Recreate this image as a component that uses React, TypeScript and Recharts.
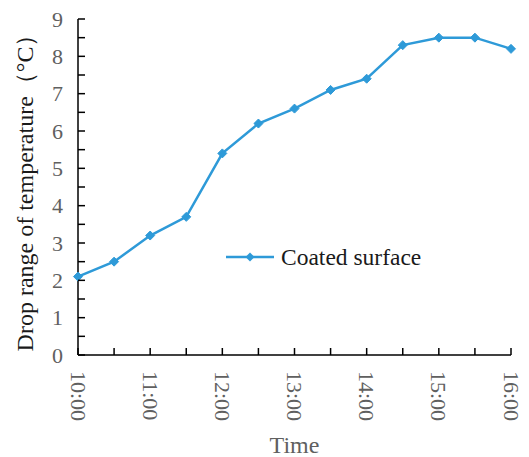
import React from 'react';
import { LineChart, Line, XAxis, YAxis, Label } from 'recharts';

const times = ['10:00', '10:30', '11:00', '11:30', '12:00', '12:30', '13:00', '13:30', '14:00', '14:30', '15:00', '15:30', '16:00'];
const coatedSurface = [2.1, 2.5, 3.2, 3.7, 5.4, 6.2, 6.6, 7.1, 7.4, 8.3, 8.5, 8.5, 8.2];
const yTicks = [0, 0.5, 1, 1.5, 2, 2.5, 3, 3.5, 4, 4.5, 5, 5.5, 6, 6.5, 7, 7.5, 8, 8.5, 9];
const hourLabels = ['10:00', '11:00', '12:00', '13:00', '14:00', '15:00', '16:00'];

const data = times.map((t, i) => ({ time: t, coated: coatedSurface[i] }));

const FONT = '"Liberation Serif", "Times New Roman", serif';
const BLUE = '#2e9ad8';
const GRAY = '#606060';

const XTick = (props: any) => {
  const { x, y, payload } = props;
  const label = payload.value as string;
  return (
    <g>
      <line x1={x} y1={y} x2={x} y2={y - 7} stroke="#000" strokeWidth={1.5} />
      {hourLabels.includes(label) && (
        <text
          x={0}
          y={0}
          transform={`translate(${x}, ${y + 16}) rotate(90)`}
          textAnchor="start"
          dominantBaseline="central"
          fontFamily={FONT}
          fontSize={22}
          fill={GRAY}
        >
          {label}
        </text>
      )}
    </g>
  );
};

const YTick = (props: any) => {
  const { x, y, payload } = props;
  const v = payload.value as number;
  const isMajor = Number.isInteger(v);
  return (
    <g>
      <line x1={x} y1={y} x2={x + 7} y2={y} stroke="#000" strokeWidth={1.5} />
      {isMajor && (
        <text
          x={x - 15}
          y={y}
          textAnchor="end"
          dominantBaseline="central"
          fontFamily={FONT}
          fontSize={22}
          fill={GRAY}
        >
          {v}
        </text>
      )}
    </g>
  );
};

const Diamond = (props: any) => {
  const { cx, cy } = props;
  const r = 4.5;
  return (
    <path
      d={`M${cx},${cy - r}L${cx + r},${cy}L${cx},${cy + r}L${cx - r},${cy}Z`}
      fill={BLUE}
      stroke={BLUE}
    />
  );
};

export default function App() {
  return (
    <div style={{ position: 'absolute', left: 0, top: 0, width: 529, height: 457, background: '#fff' }}>
      <LineChart
        width={529}
        height={457}
        data={data}
        margin={{ top: 19, right: 18, bottom: 0, left: 0 }}
      >
        <XAxis
          dataKey="time"
          type="category"
          height={102}
          interval={0}
          tickSize={0}
          tickMargin={0}
          tick={<XTick />}
          axisLine={{ stroke: '#000', strokeWidth: 1.5 }}
          tickLine={false}
        >
          <Label
            value="Time"
            position="insideBottom"
            offset={4}
            style={{ fontFamily: FONT, fontSize: 24, fill: GRAY }}
          />
        </XAxis>
        <YAxis
          width={78}
          domain={[0, 9]}
          ticks={yTicks}
          interval={0}
          tickSize={0}
          tickMargin={0}
          tick={<YTick />}
          axisLine={{ stroke: '#000', strokeWidth: 1.5 }}
          tickLine={false}
        >
          <Label
            value="Drop range of temperature（°C）"
            angle={-90}
            position="insideLeft"
            offset={0}
            dx={24}
            style={{ fontFamily: FONT, fontSize: 24, fill: '#1a1a1a', textAnchor: 'middle' }}
          />
        </YAxis>
        <Line
          dataKey="coated"
          name="Coated surface"
          stroke={BLUE}
          strokeWidth={2.5}
          dot={<Diamond />}
          activeDot={false}
          isAnimationActive={false}
        />
      </LineChart>
      <div style={{ position: 'absolute', left: 226, top: 242, width: 230, height: 30 }}>
        <svg width={230} height={30}>
          <line x1={0} y1={15} x2={48} y2={15} stroke={BLUE} strokeWidth={2.5} />
          <path d="M24,10.5L28.5,15L24,19.5L19.5,15Z" fill={BLUE} />
          <text x={55} y={15} dominantBaseline="central" fontFamily={FONT} fontSize={23.5} fill="#1a1a1a">
            Coated surface
          </text>
        </svg>
      </div>
    </div>
  );
}
